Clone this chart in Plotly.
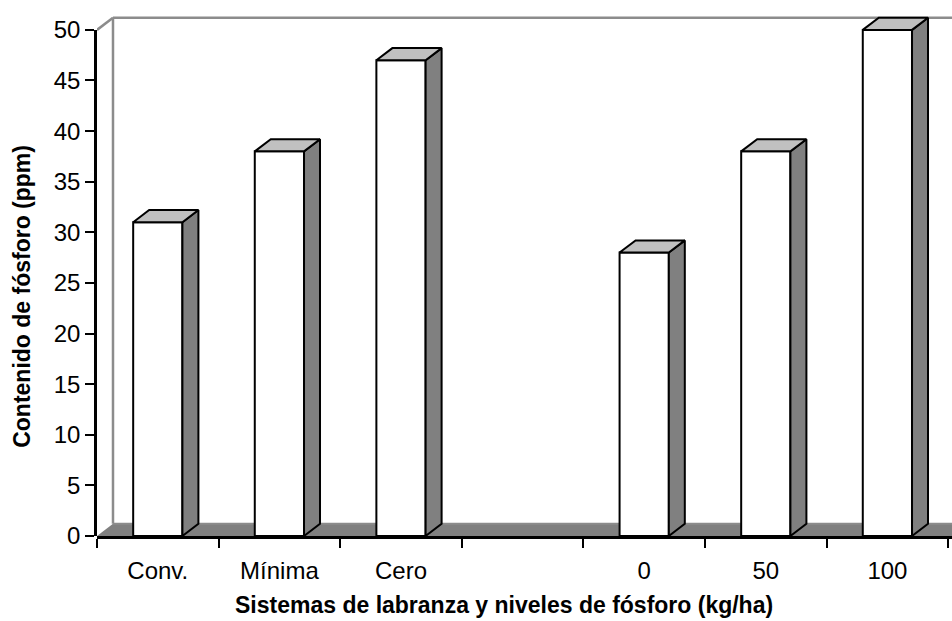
import plotly.graph_objects as go

# Phosphorus content by tillage system and phosphorus level
categories = ["Conv.", "Mínima", "Cero", "", "0", "50", "100"]
values = [31, 38, 47, None, 28, 38, 50]
y_ticks = [0, 5, 10, 15, 20, 25, 30, 35, 40, 45, 50]

FONT = "Liberation Sans, Arial, sans-serif"

# pseudo-3D geometry (axis units)
BAR_W = 0.405     # front face width
DX = 0.1315       # depth offset along x
DY = 1.2          # depth offset along y
Y_TOP = 50        # top of the value axis
PX_PER_UNIT = 10.2
MARGIN_T, MARGIN_B = 10, 85
PLOT_H = 621 - MARGIN_T - MARGIN_B
Y_MAX = PLOT_H / PX_PER_UNIT
X_MIN = -0.5
X_MAX = -0.5 + 855 / 121.6

WALL = "#8c8c8c"
SIDE = "#808080"
TOP = "#c0c0c0"

xs = [i for i, v in enumerate(values) if v is not None]
vs = [v for v in values if v is not None]

fig = go.Figure()

# front faces
fig.add_trace(go.Bar(
    x=xs, y=vs, width=BAR_W,
    marker=dict(color="white", line=dict(color="black", width=2)),
    hoverinfo="skip", showlegend=False,
))

# side faces and top faces
side_x, side_y, top_x, top_y = [], [], [], []
for x, v in zip(xs, vs):
    xl, xr = x - BAR_W / 2, x + BAR_W / 2
    side_x += [xr, xr + DX, xr + DX, xr, xr, None]
    side_y += [0, DY, v + DY, v, 0, None]
    top_x += [xl, xr, xr + DX, xl + DX, xl, None]
    top_y += [v, v, v + DY, v + DY, v, None]

fig.add_trace(go.Scatter(
    x=side_x, y=side_y, mode="lines", fill="toself", fillcolor=SIDE,
    line=dict(color="black", width=2), hoverinfo="skip", showlegend=False,
))
fig.add_trace(go.Scatter(
    x=top_x, y=top_y, mode="lines", fill="toself", fillcolor=TOP,
    line=dict(color="black", width=2), hoverinfo="skip", showlegend=False,
))

# placeholder so the value axis subplot is created
fig.add_trace(go.Scatter(x=[None], y=[None], yaxis="y2", showlegend=False,
                         hoverinfo="skip"))

far = X_MAX + 1
shapes = [
    # floor
    dict(type="path", xref="x", yref="y", layer="below",
         path=f"M {X_MIN},0 L {far},0 L {far + DX},{DY} L {X_MIN + DX},{DY} Z",
         fillcolor=SIDE, line=dict(width=0)),
    # floor back edge
    dict(type="line", xref="x", yref="y", layer="below",
         x0=X_MIN + DX, y0=DY, x1=far, y1=DY, line=dict(color=WALL, width=2)),
    # back wall left edge
    dict(type="line", xref="x", yref="y", layer="below",
         x0=X_MIN + DX, y0=DY, x1=X_MIN + DX, y1=Y_TOP + DY,
         line=dict(color=WALL, width=2.5)),
    # back wall top edge
    dict(type="line", xref="x", yref="y", layer="below",
         x0=X_MIN + DX, y0=Y_TOP + DY, x1=far, y1=Y_TOP + DY,
         line=dict(color=WALL, width=2.5)),
    # side wall top edge
    dict(type="line", xref="x", yref="y", layer="below",
         x0=X_MIN, y0=Y_TOP, x1=X_MIN + DX, y1=Y_TOP + DY,
         line=dict(color=WALL, width=2.5)),
]

fig.update_layout(
    width=952, height=621,
    margin=dict(l=97, r=0, t=MARGIN_T, b=MARGIN_B),
    paper_bgcolor="white", plot_bgcolor="rgba(0,0,0,0)",
    font=dict(family=FONT, size=24, color="black"),
    shapes=shapes,
    showlegend=False,
    xaxis=dict(
        range=[X_MIN, X_MAX], anchor="y",
        tickmode="array", tickvals=list(range(len(categories))), ticktext=categories,
        ticks="outside", ticklen=11, tickcolor="rgba(0,0,0,0)",
        minor=dict(tick0=-0.5, dtick=1, ticks="outside", ticklen=9,
                   tickwidth=2, tickcolor="black"),
        showline=True, linecolor="black", linewidth=2.5,
        showgrid=False, zeroline=False,
        tickfont=dict(family=FONT, size=24),
    ),
    yaxis=dict(
        range=[0, Y_MAX], domain=[0, 1], anchor="x",
        showline=False, showgrid=False, zeroline=False,
        showticklabels=False, ticks="",
    ),
    yaxis2=dict(
        range=[0, Y_TOP], domain=[0, Y_TOP / Y_MAX], anchor="x",
        tickmode="array", tickvals=y_ticks,
        ticks="outside", ticklen=9, tickwidth=2, tickcolor="black",
        showline=True, linecolor="black", linewidth=2.5,
        showgrid=False, zeroline=False,
        tickfont=dict(family=FONT, size=24),
    ),
    annotations=[
        dict(text="<b>Sistemas de labranza y niveles de fósforo (kg/ha)</b>",
             xref="paper", yref="paper", x=(503.5 - 97) / 855, y=(621 - MARGIN_B - 606) / PLOT_H,
             xanchor="center", yanchor="middle", showarrow=False,
             font=dict(family=FONT, size=23)),
        dict(text="<b>Contenido de fósforo (ppm)</b>",
             xref="paper", yref="paper", x=(22 - 97) / 855, y=(621 - MARGIN_B - 295) / PLOT_H,
             xanchor="center", yanchor="middle", textangle=-90, showarrow=False,
             font=dict(family=FONT, size=23)),
    ],
)

fig.write_html("out.html")
